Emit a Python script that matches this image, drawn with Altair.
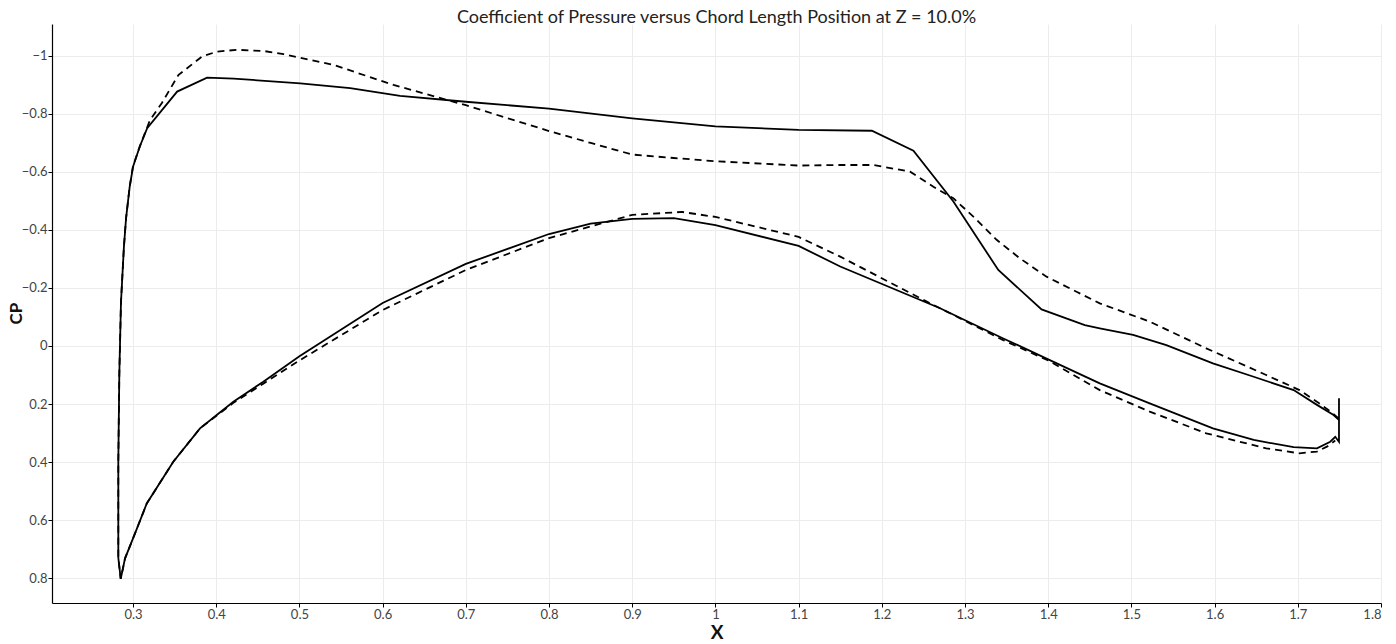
import altair as alt
import pandas as pd

# solid curve: upper surface from trailing edge to leading edge, then lower surface back
solid_x = [1.7495, 1.7495, 1.743, 1.723, 1.695, 1.647, 1.598, 1.542, 1.502, 1.462,
           1.444, 1.392, 1.340, 1.286, 1.238, 1.188, 1.10, 1.0, 0.9, 0.8,
           0.7, 0.621, 0.561, 0.501, 0.421, 0.389, 0.353, 0.317, 0.308, 0.300,
           0.296, 0.2916, 0.289, 0.2855, 0.2835, 0.2823, 0.2823, 0.2852,
           0.2904, 0.3024, 0.3165, 0.3484, 0.3805, 0.4006, 0.4206, 0.4566, 0.5, 0.6,
           0.7, 0.8, 0.85, 0.9, 0.95, 1.0, 1.1, 1.15, 1.27, 1.346,
           1.4, 1.462, 1.522, 1.598, 1.647, 1.695, 1.723, 1.739, 1.745, 1.7495, 1.7495]
solid_cp = [0.18, 0.255, 0.238, 0.203, 0.152, 0.106, 0.060, -0.003, -0.038, -0.061,
            -0.072, -0.126, -0.262, -0.498, -0.673, -0.742, -0.745, -0.757, -0.785, -0.818,
            -0.842, -0.862, -0.889, -0.905, -0.922, -0.925, -0.877, -0.751, -0.687, -0.618,
            -0.549, -0.44, -0.34, -0.15, 0.1, 0.4, 0.73, 0.803,
            0.732, 0.646, 0.543, 0.399, 0.284, 0.238, 0.192, 0.123, 0.035, -0.148,
            -0.283, -0.386, -0.422, -0.438, -0.441, -0.417, -0.345, -0.274, -0.13, -0.026,
            0.046, 0.129, 0.198, 0.284, 0.324, 0.349, 0.353, 0.33, 0.313, 0.33, 0.25]

# dashed curve, same ordering
dash_x = [1.749, 1.742, 1.726, 1.702, 1.662, 1.590, 1.522, 1.462, 1.434, 1.398,
          1.366, 1.338, 1.31, 1.286, 1.262, 1.234, 1.19, 1.15, 1.1, 1.0,
          0.95, 0.9, 0.85, 0.8, 0.7, 0.613, 0.541, 0.481, 0.457, 0.425,
          0.401, 0.383, 0.3545, 0.3345, 0.3204, 0.3084, 0.300, 0.296, 0.2916, 0.289,
          0.2855, 0.2835, 0.2823, 0.2823, 0.2852,
          0.2904, 0.3024, 0.3165, 0.3484, 0.3805, 0.4006, 0.4206, 0.4566, 0.5, 0.6,
          0.7, 0.8, 0.9, 0.96, 1.0, 1.1, 1.15, 1.25, 1.27, 1.346,
          1.4, 1.462, 1.522, 1.590, 1.662, 1.702, 1.723, 1.735, 1.745]
dash_cp = [0.25, 0.232, 0.198, 0.152, 0.1, 0.008, -0.084, -0.147, -0.187, -0.239,
           -0.302, -0.366, -0.446, -0.509, -0.549, -0.601, -0.624, -0.624, -0.622, -0.637,
           -0.648, -0.66, -0.7, -0.741, -0.83, -0.9, -0.969, -1.006, -1.017, -1.021,
           -1.015, -0.998, -0.934, -0.837, -0.779, -0.69, -0.62, -0.55, -0.44, -0.34,
           -0.15, 0.1, 0.4, 0.73, 0.803,
           0.732, 0.646, 0.543, 0.399, 0.284, 0.24, 0.196, 0.13, 0.05, -0.124,
           -0.262, -0.372, -0.452, -0.462, -0.445, -0.376, -0.308, -0.159, -0.13, -0.02,
           0.05, 0.152, 0.226, 0.301, 0.353, 0.370, 0.364, 0.347, 0.326]

solid = pd.DataFrame({'x': solid_x, 'cp': solid_cp, 'i': range(len(solid_x))})
dashed = pd.DataFrame({'x': dash_x, 'cp': dash_cp, 'i': range(len(dash_x))})

FONT = 'Lato'

x_enc = alt.X(
    'x:Q',
    title='X',
    scale=alt.Scale(domain=[0.2026, 1.8], nice=False, zero=False),
    axis=alt.Axis(
        values=[0.3, 0.4, 0.5, 0.6, 0.7, 0.8, 0.9, 1.0, 1.1, 1.2, 1.3, 1.4, 1.5, 1.6, 1.7, 1.8],
        format='~g',
        titleY=39,
        titleBaseline='bottom',
        titleFontSize=19,
    ),
)
y_enc = alt.Y(
    'cp:Q',
    title='CP',
    scale=alt.Scale(domain=[-1.11, 0.886], nice=False, zero=False, reverse=True),
    axis=alt.Axis(
        values=[-1, -0.8, -0.6, -0.4, -0.2, 0, 0.2, 0.4, 0.6, 0.8],
        format='~g',
        titleX=-36,
        titleY=289,
        titleBaseline='middle',
        titleFontSize=17,
    ),
)

solid_line = alt.Chart(solid).mark_line(color='black', strokeWidth=1.8).encode(
    x=x_enc, y=y_enc, order='i:Q'
)
dashed_line = alt.Chart(dashed).mark_line(color='black', strokeWidth=1.8, strokeDash=[7, 5]).encode(
    x=x_enc, y=y_enc, order='i:Q'
)

chart = alt.layer(solid_line, dashed_line).properties(
    width=1329,
    height=579,
    autosize=alt.AutoSizeParams(type='none'),
    padding={'left': 44, 'top': 16, 'right': 7, 'bottom': 45},
    title=alt.TitleParams(
        'Coefficient of Pressure versus Chord Length Position at Z = 10.0%',
        anchor='middle',
        fontSize=18,
        fontWeight='normal',
        font=FONT,
        color='#222',
        offset=-3,
    ),
).configure_view(
    stroke=None
).configure_axis(
    domainColor='black',
    domainWidth=1.2,
    tickColor='black',
    tickSize=4,
    labelPadding=1,
    labelFont=FONT,
    labelFontSize=13,
    labelColor='#444',
    titleFont=FONT,
    titleFontWeight='bold',
    titleColor='#111',
    gridColor='#ececec',
    gridWidth=1,
)

chart.save('out.html', embed_options={'renderer': 'svg', 'actions': False})
